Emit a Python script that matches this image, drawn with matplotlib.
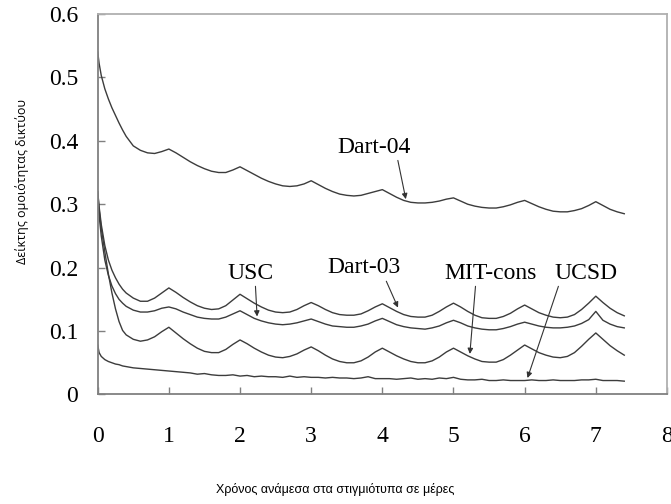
import matplotlib
matplotlib.use('Agg')
import matplotlib.pyplot as plt

# time between snapshots (days)
days = [0, 0.02, 0.05, 0.1, 0.15, 0.2, 0.25, 0.3, 0.35, 0.4,
        0.5, 0.6, 0.7, 0.8, 0.9, 1.0, 1.1, 1.2, 1.3, 1.4,
        1.5, 1.6, 1.7, 1.8, 1.9, 2.0, 2.1, 2.2, 2.3, 2.4,
        2.5, 2.6, 2.7, 2.8, 2.9, 3.0, 3.1, 3.2, 3.3, 3.4,
        3.5, 3.6, 3.7, 3.8, 3.9, 4.0, 4.1, 4.2, 4.3, 4.4,
        4.5, 4.6, 4.7, 4.8, 4.9, 5.0, 5.1, 5.2, 5.3, 5.4,
        5.5, 5.6, 5.7, 5.8, 5.9, 6.0, 6.1, 6.2, 6.3, 6.4,
        6.5, 6.6, 6.7, 6.8, 6.9, 7.0, 7.1, 7.2, 7.3, 7.4]

dart04 = [0.540, 0.522, 0.503, 0.482, 0.466, 0.452, 0.440, 0.428, 0.417, 0.407,
          0.392, 0.385, 0.381, 0.380, 0.383, 0.387, 0.381, 0.374, 0.367, 0.361,
          0.356, 0.352, 0.350, 0.350, 0.354, 0.359, 0.353, 0.347, 0.341, 0.336,
          0.332, 0.329, 0.328, 0.329, 0.332, 0.337, 0.331, 0.325, 0.320, 0.316,
          0.314, 0.313, 0.314, 0.317, 0.320, 0.323, 0.317, 0.311, 0.306, 0.303,
          0.302, 0.302, 0.303, 0.305, 0.308, 0.310, 0.305, 0.300, 0.297, 0.295,
          0.294, 0.294, 0.296, 0.299, 0.303, 0.306, 0.301, 0.296, 0.292, 0.289,
          0.288, 0.288, 0.290, 0.293, 0.298, 0.304, 0.298, 0.292, 0.288, 0.285]

dart03 = [0.320, 0.296, 0.268, 0.235, 0.212, 0.196, 0.184, 0.174, 0.166, 0.160,
          0.152, 0.147, 0.147, 0.152, 0.160, 0.168, 0.161, 0.153, 0.146, 0.140,
          0.136, 0.134, 0.135, 0.140, 0.149, 0.158, 0.151, 0.144, 0.138, 0.133,
          0.130, 0.129, 0.130, 0.134, 0.140, 0.145, 0.140, 0.134, 0.129, 0.126,
          0.125, 0.125, 0.127, 0.132, 0.138, 0.143, 0.137, 0.131, 0.126, 0.123,
          0.122, 0.122, 0.125, 0.131, 0.138, 0.144, 0.138, 0.131, 0.125, 0.121,
          0.120, 0.120, 0.123, 0.128, 0.135, 0.141, 0.135, 0.129, 0.125, 0.122,
          0.121, 0.122, 0.126, 0.134, 0.144, 0.155, 0.145, 0.136, 0.129, 0.124]

usc = [0.310, 0.282, 0.250, 0.212, 0.188, 0.171, 0.159, 0.150, 0.144, 0.139,
       0.133, 0.130, 0.130, 0.132, 0.136, 0.138, 0.135, 0.130, 0.126, 0.122,
       0.120, 0.119, 0.119, 0.122, 0.127, 0.132, 0.126, 0.120, 0.116, 0.113,
       0.111, 0.110, 0.111, 0.113, 0.116, 0.119, 0.115, 0.111, 0.108, 0.107,
       0.106, 0.106, 0.108, 0.111, 0.116, 0.120, 0.115, 0.110, 0.107, 0.105,
       0.104, 0.103, 0.105, 0.108, 0.113, 0.117, 0.113, 0.108, 0.105, 0.103,
       0.102, 0.102, 0.104, 0.107, 0.111, 0.114, 0.111, 0.108, 0.106, 0.105,
       0.105, 0.106, 0.108, 0.112, 0.118, 0.131, 0.117, 0.111, 0.107, 0.105]

mit_cons = [0.320, 0.292, 0.262, 0.225, 0.190, 0.160, 0.135, 0.115, 0.101, 0.094,
            0.087, 0.084, 0.086, 0.091, 0.099, 0.106, 0.097, 0.088, 0.080, 0.073,
            0.068, 0.066, 0.066, 0.071, 0.079, 0.086, 0.080, 0.073, 0.067, 0.062,
            0.059, 0.058, 0.060, 0.064, 0.070, 0.075, 0.069, 0.062, 0.056, 0.052,
            0.050, 0.050, 0.053, 0.059, 0.067, 0.073, 0.067, 0.061, 0.056, 0.052,
            0.050, 0.050, 0.053, 0.059, 0.067, 0.073, 0.067, 0.061, 0.056, 0.052,
            0.051, 0.051, 0.055, 0.062, 0.070, 0.078, 0.072, 0.066, 0.062, 0.059,
            0.058, 0.060, 0.066, 0.076, 0.087, 0.097, 0.087, 0.077, 0.069, 0.062]

ucsd = [0.078, 0.066, 0.060, 0.055, 0.052, 0.050, 0.048, 0.047, 0.045, 0.044,
        0.042, 0.041, 0.040, 0.039, 0.038, 0.037, 0.036, 0.035, 0.034, 0.032,
        0.033, 0.031, 0.030, 0.030, 0.031, 0.029, 0.030, 0.028, 0.029, 0.028,
        0.028, 0.027, 0.029, 0.027, 0.028, 0.027, 0.027, 0.026, 0.027, 0.026,
        0.026, 0.025, 0.026, 0.028, 0.025, 0.025, 0.025, 0.024, 0.025, 0.026,
        0.024, 0.025, 0.024, 0.026, 0.025, 0.027, 0.024, 0.023, 0.023, 0.024,
        0.022, 0.022, 0.023, 0.022, 0.022, 0.022, 0.023, 0.022, 0.022, 0.023,
        0.022, 0.022, 0.022, 0.023, 0.023, 0.024, 0.022, 0.022, 0.022, 0.021]

x_ticks = [0, 1, 2, 3, 4, 5, 6, 7, 8]
y_ticks = [0, 0.1, 0.2, 0.3, 0.4, 0.5, 0.6]
y_tick_labels = ['0', '0.1', '0.2', '0.3', '0.4', '0.5', '0.6']

# label text, text position, arrow tip, where the arrow leaves the text
notes = [
    ('Dart-04', (3.88, 0.390), (4.33, 0.308), (0.82, 0.0)),
    ('USC', (2.15, 0.1915), (2.24, 0.123), (0.6, 0.0)),
    ('Dart-03', (3.74, 0.1995), (4.22, 0.137), (0.79, 0.0)),
    ('MIT-cons', (5.52, 0.1915), (5.23, 0.064), (0.34, 0.0)),
    ('UCSD', (6.86, 0.1915), (6.04, 0.026), (0.08, 0.0)),
]

serif = 'Liberation Serif'
line_color = '#3c3c3c'

fig = plt.figure(figsize=(6.71, 5.04), dpi=100)  # same size as the picture
ax = fig.add_axes([0.1456, 0.2173, 0.8484, 0.7550])

for series in [dart04, dart03, usc, mit_cons, ucsd]:
    ax.plot(days, series, color=line_color, lw=1.0, solid_joinstyle='round')

ax.set_xlim(0, 8)
ax.set_ylim(0, 0.6)
ax.set_xticks(x_ticks)
ax.set_yticks(y_ticks)
ax.set_yticklabels(y_tick_labels)

# grey frame, darker on the left and bottom
for side in ['left', 'bottom']:
    ax.spines[side].set_color('#808080')
    ax.spines[side].set_linewidth(1.3)
for side in ['top', 'right']:
    ax.spines[side].set_color('#b0b0b0')
    ax.spines[side].set_linewidth(1.3)

ax.tick_params(axis='both', direction='in', length=5, width=1.0, color='#808080')
ax.tick_params(axis='x', pad=23)
ax.tick_params(axis='y', pad=14)
for lab in ax.get_xticklabels() + ax.get_yticklabels():
    lab.set_fontfamily(serif)
    lab.set_fontsize(17)

for text, xytext, xy, rel in notes:
    ax.annotate(text, xy=xy, xytext=xytext, ha='center', va='center',
                fontfamily=serif, fontsize=17,
                arrowprops=dict(arrowstyle='-|>', color='#333333', lw=0.8,
                                mutation_scale=8, shrinkA=0, shrinkB=0, relpos=rel))

fig.text(0.5, 0.028, 'Χρόνος ανάμεσα στα στιγμιότυπα σε μέρες', ha='center', va='center',
         fontfamily='Liberation Sans', fontsize=9)
fig.text(0.033, 0.64, 'Δείκτης ομοιότητας δικτύου', ha='center', va='center',
         rotation=90, fontfamily='Open Sans', fontsize=9)

fig.savefig('out.png', dpi=100)
plt.close()
